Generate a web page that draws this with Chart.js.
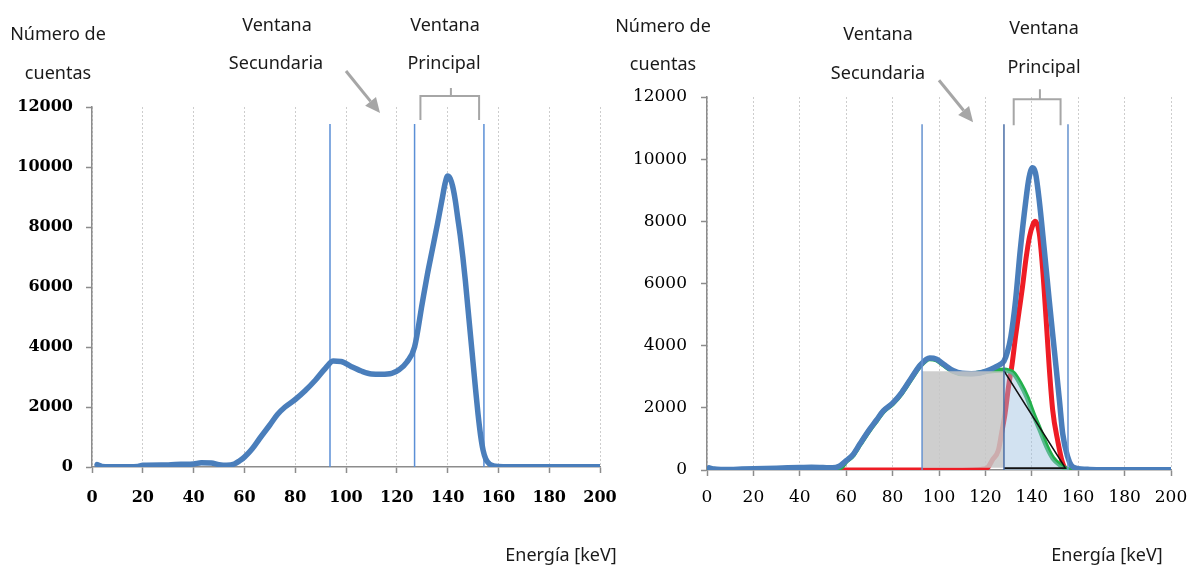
<!DOCTYPE html>
<html>
<head>
<meta charset="utf-8">
<script src="https://cdn.jsdelivr.net/npm/chart.js@4/dist/chart.umd.min.js"></script>
<style>
  body { margin: 0; background: #fff; }
  #wrap { position: relative; width: 1189px; height: 565px; overflow: hidden; }
  canvas { position: absolute; top: 0; }
  .lbl { position: absolute; transform: translate(-50%, -50%); white-space: nowrap;
         font: 18px "Noto Sans", sans-serif; color: #1a1a1a; line-height: 1; }
</style>
</head>
<body>
<div id="wrap">
  <canvas id="left" width="620" height="565" style="left:0"></canvas>
  <canvas id="right" width="589" height="565" style="left:600px"></canvas>

  <div class="lbl" style="left:58px;top:33px">Número de</div>
  <div class="lbl" style="left:58px;top:72px">cuentas</div>
  <div class="lbl" style="left:277px;top:24px">Ventana</div>
  <div class="lbl" style="left:276px;top:62px">Secundaria</div>
  <div class="lbl" style="left:445px;top:24px">Ventana</div>
  <div class="lbl" style="left:444px;top:62px">Principal</div>
  <div class="lbl" style="left:561px;top:554px">Energía [keV]</div>

  <div class="lbl" style="left:663px;top:25px">Número de</div>
  <div class="lbl" style="left:663px;top:63px">cuentas</div>
  <div class="lbl" style="left:878px;top:33px">Ventana</div>
  <div class="lbl" style="left:878px;top:72px">Secundaria</div>
  <div class="lbl" style="left:1044px;top:27px">Ventana</div>
  <div class="lbl" style="left:1044px;top:66px">Principal</div>
  <div class="lbl" style="left:1107px;top:554px">Energía [keV]</div>
</div>
<script>
// tick labels
const xTicks = [0, 20, 40, 60, 80, 100, 120, 140, 160, 180, 200];
const yTicks = [0, 2000, 4000, 6000, 8000, 10000, 12000];

// left spectrum (total counts)
const leftEnergy = [2, 4, 10, 18, 20, 30, 35, 40, 43, 47, 50, 53, 56, 58, 60, 63, 66, 70, 73, 76,
  80, 84, 88, 92, 95, 98, 102, 106, 110, 114, 118, 121, 124, 127, 130, 132, 134, 136, 138,
  139, 140, 141, 142, 143, 144, 145, 146, 147, 148, 149, 150, 151, 152, 153, 154, 155, 156.5, 158, 160, 170, 200];
const leftCounts = [80, 20, 10, 20, 60, 70, 90, 100, 140, 130, 80, 60, 100, 200, 330, 600, 950, 1400, 1750, 2000,
  2250, 2550, 2900, 3300, 3530, 3520, 3350, 3200, 3100, 3090, 3120, 3250, 3500, 4000, 5450, 6400, 7250, 8100, 9000,
  9450, 9700, 9620, 9350, 8900, 8300, 7700, 7000, 6200, 5300, 4400, 3500, 2600, 1750, 1050, 550, 270, 100, 40, 20, 10, 10];

// right spectrum: total, photopeak (red), scatter (green)
const rightEnergy = [1, 3, 6, 10, 15, 20, 25, 30, 35, 40, 45, 50, 54, 57, 60, 63, 66, 70, 73, 76,
  80, 84, 88, 92, 96, 99, 102, 106, 110, 114, 118, 121, 124, 126, 128, 129.5, 131, 133, 135, 137.4,
  138.8, 140.3, 141.6, 143.2, 145.4, 147.5, 149.7, 151.9, 153.3, 155.5, 157, 159, 165, 180, 200];
const rightCounts = [70, 30, 20, 20, 30, 40, 50, 60, 70, 80, 90, 80, 70, 120, 300, 500, 850, 1300, 1600, 1900,
  2150, 2500, 2950, 3380, 3600, 3560, 3400, 3200, 3110, 3100, 3130, 3200, 3300, 3380, 3500, 3800, 4300, 5450, 7050, 8650,
  9400, 9720, 9550, 8680, 7070, 5470, 3860, 2250, 1180, 420, 150, 60, 20, 10, 10];

const redEnergy = [14, 40, 70, 100, 118, 121, 123, 125.6, 127, 128.5, 130, 131.5, 133, 134.5, 136, 137.5, 139,
  140.5, 141.5, 143.2, 144.6, 146.1, 147.5, 149, 151.2, 153.3, 155.5, 162];
const redCounts = [0, 0, 0, 0, 20, 80, 320, 640, 1190, 1830, 2700, 3400, 4300, 5100, 5900, 6800, 7500,
  7900, 8000, 7620, 6540, 4930, 3320, 1930, 930, 220, 0, 0];

const greenEnergy = [1, 5, 10, 20, 30, 40, 50, 55, 58, 60, 63, 66, 70, 73, 76, 80, 84, 88, 92, 96,
  99, 102, 106, 110, 114, 118, 121, 124, 126, 128.4, 130, 132, 134.9, 137.9, 140.5, 143.5, 146.5, 149.1, 152.2, 156.5, 160];
const greenCounts = [30, 10, 0, 10, 20, 40, 50, 40, 100, 280, 480, 830, 1280, 1580, 1880, 2130, 2480, 2930, 3360, 3580,
  3540, 3380, 3180, 3100, 3100, 3130, 3180, 3200, 3210, 3215, 3190, 3120, 2800, 2350, 1830, 1290, 740, 380, 160, 0, 0];

// shaded areas on the right chart
const boxEnergy = [92.7, 128];
const boxCounts = [3180, 3180];
const boxBase = 70;
const peakFillEnergy = [128, 130, 132, 134.9, 137.9, 140.5, 143.5, 146.5, 149.1, 152.2, 156.5];
const peakFillCounts = [3215, 3190, 3120, 2800, 2350, 1830, 1290, 740, 380, 160, 0];
const triangleEnergy = [128, 154.5, 128];
const triangleCounts = [3190, 60, 60];

// energy windows (vertical lines)
const leftWindows = [93.7, 127, 154.3];
const leftWindowTop = 11430;
const rightWindows = [92.7, 128, 155.6];
const rightWindowTop = 11125;

const pts = (xs, ys) => xs.map((x, i) => ({ x: x, y: ys[i] }));

const axisGray = '#8c8c8c';
const blue = '#4a7ebb';

// arrow + bracket drawn above the plot area
const marksPlugin = {
  id: 'marks',
  afterDatasetsDraw(chart, args, opts) {
    const { ctx } = chart;
    const sx = chart.scales.x, sy = chart.scales.y;
    const X = v => sx.getPixelForValue(v), Y = v => sy.getPixelForValue(v);
    ctx.save();
    ctx.strokeStyle = '#a6a6a6';
    ctx.fillStyle = '#a6a6a6';

    const a = opts.arrow;
    const x0 = X(a.from[0]), y0 = Y(a.from[1]), x1 = X(a.to[0]), y1 = Y(a.to[1]);
    const ang = Math.atan2(y1 - y0, x1 - x0);
    const hl = 15, hw = 7;
    ctx.lineWidth = 3;
    ctx.beginPath();
    ctx.moveTo(x0, y0);
    ctx.lineTo(x1 - hl * Math.cos(ang), y1 - hl * Math.sin(ang));
    ctx.stroke();
    ctx.beginPath();
    ctx.moveTo(x1, y1);
    ctx.lineTo(x1 - hl * Math.cos(ang) + hw * Math.sin(ang), y1 - hl * Math.sin(ang) - hw * Math.cos(ang));
    ctx.lineTo(x1 - hl * Math.cos(ang) - hw * Math.sin(ang), y1 - hl * Math.sin(ang) + hw * Math.cos(ang));
    ctx.closePath();
    ctx.fill();

    const b = opts.bracket;
    ctx.lineWidth = 2;
    ctx.beginPath();
    ctx.moveTo(X(b.left), Y(b.legBottom));
    ctx.lineTo(X(b.left), Y(b.top));
    ctx.lineTo(X(b.right), Y(b.top));
    ctx.lineTo(X(b.right), Y(b.legBottom));
    ctx.moveTo(X(b.stem), Y(b.top));
    ctx.lineTo(X(b.stem), Y(b.stemTop));
    ctx.stroke();
    ctx.restore();
  }
};

function scalesFor(o) {
  return {
    x: {
      type: 'linear', min: 0, max: 200,
      afterBuildTicks: s => { s.ticks = xTicks.map(v => ({ value: v })); },
      afterFit: s => { s.height = o.xHeight; s.paddingLeft = 0; s.paddingRight = 0; },
      grid: { color: '#cdcdcd', lineWidth: 1, tickLength: 6, tickColor: axisGray, tickWidth: 1.5, tickBorderDash: [] },
      border: { color: axisGray, width: 1.5, dash: [2, 2] },
      ticks: { color: '#000', padding: o.xPad, maxRotation: 0, autoSkip: false,
        font: { family: 'DejaVu Serif', size: o.fontSize, weight: o.weight },
        callback: v => String(v) }
    },
    y: {
      type: 'linear', min: 0, max: 12000,
      afterBuildTicks: s => { s.ticks = yTicks.map(v => ({ value: v })); },
      afterFit: s => { s.width = o.yWidth; },
      grid: { drawOnChartArea: false, tickLength: 6, color: axisGray, tickColor: axisGray, tickWidth: 1.5 },
      border: { color: axisGray, width: 1.5 },
      ticks: { color: '#000', padding: o.yPad,
        font: { family: 'DejaVu Serif', size: o.fontSize, weight: o.weight },
        callback: v => String(v) }
    }
  };
}

function lineSet(data, color, width, order, extra) {
  return Object.assign({
    data: data, borderColor: color, borderWidth: width, pointRadius: 0,
    cubicInterpolationMode: 'monotone', borderCapStyle: 'round', borderJoinStyle: 'round',
    fill: false, order: order
  }, extra || {});
}

function windowSets(list, top, colors, order) {
  return list.map((w, i) => lineSet([{ x: w, y: 0 }, { x: w, y: top }], colors[i], 1.5, order,
    { cubicInterpolationMode: 'default', tension: 0, borderCapStyle: 'butt' }));
}

const common = {
  type: 'line',
  plugins: [marksPlugin]
};

new Chart(document.getElementById('left'), Object.assign({}, common, {
  data: {
    datasets: [
      lineSet(pts(leftEnergy, leftCounts), blue, 5.5, 1)
    ].concat(windowSets(leftWindows, leftWindowTop, ['#5b8fd6', '#5b8fd6', '#5b8fd6'], 2))
  },
  options: {
    responsive: false, animation: false,
    layout: { padding: { top: 107, right: 20, left: 0, bottom: 0 } },
    plugins: {
      legend: { display: false }, tooltip: { enabled: false },
      marks: {
        arrow: { from: [100, 13200], to: [113.4, 11800] },
        bracket: { left: 129.3, right: 152.4, top: 12370, legBottom: 11570, stem: 141.3, stemTop: 12630 }
      }
    },
    scales: scalesFor({ xHeight: 98, yWidth: 92, xPad: 15, yPad: 13, fontSize: 16, weight: 'bold' })
  }
}));

new Chart(document.getElementById('right'), Object.assign({}, common, {
  data: {
    datasets: windowSets(rightWindows, rightWindowTop, ['#6592cf', '#4a6ea6', '#6592cf'], 0).concat([
      lineSet(pts(triangleEnergy, triangleCounts), '#111', 1.6, 1,
        { cubicInterpolationMode: 'default', tension: 0, borderCapStyle: 'butt', borderJoinStyle: 'miter' }),
      lineSet(pts(peakFillEnergy, peakFillCounts), 'rgba(0,0,0,0)', 0, 2,
        { fill: 'origin', backgroundColor: 'rgba(155,190,225,0.45)' }),
      lineSet(pts(boxEnergy, boxCounts), 'rgba(0,0,0,0)', 0, 3,
        { fill: { value: boxBase }, backgroundColor: 'rgba(198,198,198,0.85)', tension: 0, cubicInterpolationMode: 'default' }),
      lineSet(pts(rightEnergy, rightCounts), blue, 5.5, 4),
      lineSet(pts(greenEnergy, greenCounts), '#22b14c', 5, 5),
      lineSet(pts(redEnergy, redCounts), '#ee1c25', 5, 6)
    ])
  },
  options: {
    responsive: false, animation: false,
    layout: { padding: { top: 97, right: 18, left: 0, bottom: 0 } },
    plugins: {
      legend: { display: false }, tooltip: { enabled: false },
      marks: {
        arrow: { from: [100, 12540], to: [114.7, 11190] },
        bracket: { left: 132.2, right: 152.4, top: 11930, legBottom: 11090, stem: 143.5, stemTop: 12250 }
      }
    },
    scales: scalesFor({ xHeight: 95, yWidth: 107, xPad: 11, yPad: 14, fontSize: 17, weight: 'normal' })
  }
}));
</script>
</body>
</html>
